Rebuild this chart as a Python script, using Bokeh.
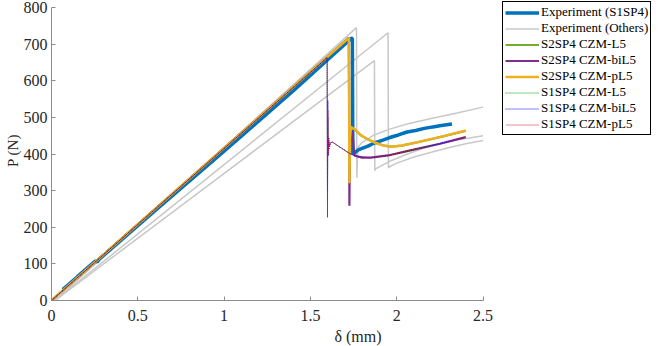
from bokeh.plotting import figure
from bokeh.models import Range1d, Legend, LegendItem, FixedTicker
from bokeh.embed import file_html
from bokeh.resources import INLINE

# ---------------- data ----------------
x_ticks = [0, 0.5, 1, 1.5, 2, 2.5]
x_tick_labels = ["0", "0.5", "1", "1.5", "2", "2.5"]
y_ticks = [0, 100, 200, 300, 400, 500, 600, 700, 800]
x_axis_span = (0, 2.5)
y_axis_span = (0, 800)

# Experiment (S1SP4)
exp_s1_x = [0.065, 0.15, 0.255, 0.265, 0.275, 0.6, 1.0, 1.4, 1.738, 1.743, 1.746,
            1.78, 1.83, 1.87, 1.92, 1.96, 2.01, 2.06, 2.11, 2.16, 2.21, 2.25, 2.29, 2.32]
exp_s1_y = [30, 65, 108, 105, 112, 245, 408, 572, 716, 716, 400,
            412, 421, 430, 438, 445, 452, 460, 464, 470, 474, 477, 480, 482]

# Experiment (Others)
oth_a_x = [0.02, 1.767, 1.769, 1.775, 1.80, 1.87, 1.96, 2.06, 2.2, 2.35, 2.5]
oth_a_y = [0, 745, 335, 418, 432, 452, 468, 482, 497, 512, 528]
oth_b_x = [0.02, 1.95, 1.952, 1.96, 2.0, 2.1, 2.2, 2.3, 2.4, 2.5]
oth_b_y = [0, 731, 362, 366, 375, 392, 405, 417, 428, 437]
oth_c_x = [0.02, 1.871, 1.873, 1.88, 1.95, 2.05, 2.15, 2.25, 2.35, 2.5]
oth_c_y = [0, 655, 355, 360, 378, 398, 415, 428, 438, 450]

# S2SP4 simulations
s2_l5_x = [0, 1.723, 1.726, 1.729, 1.735, 1.745, 1.757, 1.79, 1.829, 1.88, 1.925, 1.97, 2.03, 2.12, 2.25, 2.40]
s2_l5_y = [0, 717, 330, 440, 472, 470, 467, 452, 441, 430, 423, 420, 423, 432, 446, 463]
s2_bil5_x = [0, 1.723, 1.726, 1.729, 1.738, 1.745, 1.75, 1.755, 1.80, 1.85, 1.95, 2.06, 2.25, 2.40]
s2_bil5_y = [0, 717, 259, 430, 462, 455, 420, 396, 390, 390, 396, 408, 428, 446]
s2_pl5_x = [0, 1.723, 1.726, 1.729, 1.735, 1.745, 1.757, 1.79, 1.829, 1.88, 1.925, 1.97, 2.03, 2.12, 2.25, 2.40]
s2_pl5_y = [0, 717, 320, 440, 475, 470, 468, 452, 441, 430, 423, 420, 423, 432, 446, 464]

# S1SP4 simulations
s1_x = [0, 1.597, 1.599, 1.601, 1.603, 1.606, 1.61, 1.615, 1.626, 1.68, 1.732,
        1.78, 1.85, 1.95, 2.06, 2.25, 2.40]
s1_l5_y = [0, 663, 300, 500, 410, 435, 425, 428, 433, 416, 400, 392, 390, 396, 408, 428, 446]
s1_bil5_y = [0, 663, 227, 546, 395, 445, 415, 430, 433, 416, 400, 392, 390, 396, 408, 428, 446]
s1_pl5_y = [0, 663, 270, 520, 400, 440, 420, 429, 433, 416, 400, 392, 390, 396, 408, 428, 446]

# ---------------- styles ----------------
C_BLUE = "#0072BD"
C_GRAY = "#c8c8c8"
C_GREEN = "#77AC30"
C_PURPLE = "#7E2F8E"
C_YELLOW = "#EDB120"
C_DGREEN = "#00a000"
C_DBLUE = "#0000ff"
C_DRED = "#d4143c"
FONT = "Liberation Serif, Times New Roman, serif"

# frame extends to the right/top so that the legend (outside the axes) is drawn unclipped
PX_PER_MM = 431.5 / 2.5
PX_PER_N = 293 / 800
LEFT = 51
FRAME_W = 613
FRAME_H = 300

p = figure(frame_width=FRAME_W, frame_height=FRAME_H,
           min_border_left=LEFT, min_border_right=0, min_border_top=0, min_border_bottom=46,
           x_range=Range1d(0, FRAME_W / PX_PER_MM), y_range=Range1d(0, FRAME_H / PX_PER_N),
           output_backend="svg", toolbar_location=None)
p.outline_line_color = None
p.xgrid.grid_line_color = None
p.ygrid.grid_line_color = None
p.background_fill_color = "white"
p.border_fill_color = "white"

for ax in (p.xaxis[0], p.yaxis[0]):
    ax.axis_line_color = "#8c8c8c"
    ax.major_tick_line_color = "#8c8c8c"
    ax.major_tick_in = 4
    ax.major_tick_out = 0
    ax.minor_tick_line_color = None
    ax.major_label_text_font = FONT
    ax.major_label_text_font_size = "16px"
    ax.major_label_text_color = "#262626"
    ax.axis_label_text_font = FONT
    ax.axis_label_text_font_style = "normal"
    ax.axis_label_text_color = "#262626"
p.xaxis[0].bounds = x_axis_span
p.yaxis[0].bounds = y_axis_span
p.xaxis[0].ticker = FixedTicker(ticks=x_ticks)
p.xaxis[0].major_label_overrides = {t: s for t, s in zip(x_ticks, x_tick_labels)}
p.xaxis[0].major_label_standoff = 9
p.xaxis[0].axis_label = "δ (mm)"
p.xaxis[0].axis_label_text_font_size = "16px"
p.xaxis[0].axis_label_standoff = 4
p.yaxis[0].ticker = FixedTicker(ticks=y_ticks)
p.yaxis[0].major_label_standoff = 4
p.yaxis[0].axis_label = "P (N)"
p.yaxis[0].axis_label_text_font_size = "15px"
p.yaxis[0].axis_label_standoff = 0

# grays
r_oa = p.line(oth_a_x, oth_a_y, line_color=C_GRAY, line_width=1.5)
p.line(oth_b_x, oth_b_y, line_color=C_GRAY, line_width=1.5)
p.line(oth_c_x, oth_c_y, line_color=C_GRAY, line_width=1.5)
# experiment
r_exp = p.line(exp_s1_x, exp_s1_y, line_color=C_BLUE, line_width=3.5)
# S2SP4
r_s2l = p.line(s2_l5_x, s2_l5_y, line_color=C_GREEN, line_width=2.2)
r_s2b = p.line(s2_bil5_x, s2_bil5_y, line_color=C_PURPLE, line_width=2.2)
r_s2p = p.line(s2_pl5_x, s2_pl5_y, line_color=C_YELLOW, line_width=2.5)
# S1SP4 dotted
r_s1l = p.line(s1_x, s1_l5_y, line_color=C_DGREEN, line_width=1.0, line_dash="1 1")
r_s1b = p.line(s1_x, s1_bil5_y, line_color=C_DBLUE, line_width=1.0, line_dash="1 1")
r_s1p = p.line(s1_x, s1_pl5_y, line_color=C_DRED, line_width=1.0, line_dash="1 1", line_dash_offset=1)

legend = Legend(items=[
    LegendItem(label="Experiment (S1SP4)", renderers=[r_exp]),
    LegendItem(label="Experiment (Others)", renderers=[r_oa]),
    LegendItem(label="S2SP4 CZM-L5", renderers=[r_s2l]),
    LegendItem(label="S2SP4 CZM-biL5", renderers=[r_s2b]),
    LegendItem(label="S2SP4 CZM-pL5", renderers=[r_s2p]),
    LegendItem(label="S1SP4 CZM-L5", renderers=[r_s1l]),
    LegendItem(label="S1SP4 CZM-biL5", renderers=[r_s1b]),
    LegendItem(label="S1SP4 CZM-pL5", renderers=[r_s1p]),
], location=(451, 165))
legend.border_line_color = "#000000"
legend.border_line_alpha = 1.0
legend.border_line_width = 1
legend.background_fill_color = "white"
legend.background_fill_alpha = 1
legend.padding = 2
legend.spacing = 0
legend.margin = 0
legend.label_height = 15
legend.glyph_height = 15
legend.glyph_width = 34
legend.label_standoff = 2
legend.label_text_font = FONT
legend.label_text_font_size = "13px"
legend.label_text_color = "#000000"
p.add_layout(legend, "center")

open("out.html", "w").write(file_html(p, INLINE))
